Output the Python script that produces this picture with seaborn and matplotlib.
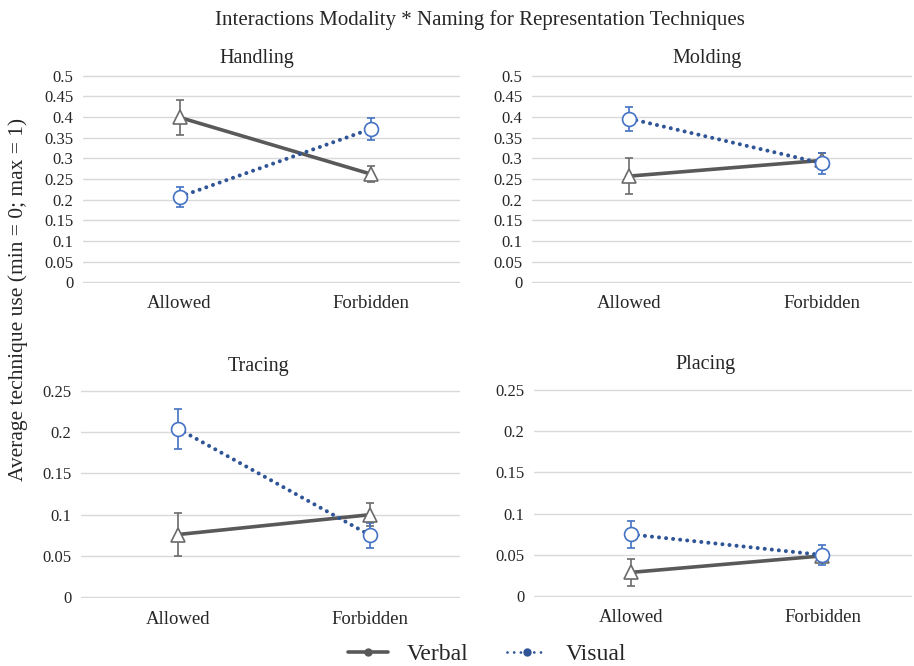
import numpy as np
import pandas as pd
import seaborn as sns
import matplotlib.pyplot as plt

CONDITIONS = ["Allowed", "Forbidden"]
SERIES = ["Verbal", "Visual"]
PANELS = ["Handling", "Molding", "Tracing", "Placing"]

# means per panel: [Allowed, Forbidden]
VERBAL_MEAN = {
    "Handling": [0.399, 0.262],
    "Molding": [0.257, 0.295],
    "Tracing": [0.076, 0.100],
    "Placing": [0.029, 0.049],
}
VISUAL_MEAN = {
    "Handling": [0.207, 0.371],
    "Molding": [0.396, 0.288],
    "Tracing": [0.204, 0.075],
    "Placing": [0.075, 0.050],
}
# half-width of error bars
VERBAL_ERR = {
    "Handling": [0.043, 0.019],
    "Molding": [0.043, 0.018],
    "Tracing": [0.026, 0.014],
    "Placing": [0.016, 0.007],
}
VISUAL_ERR = {
    "Handling": [0.024, 0.027],
    "Molding": [0.029, 0.026],
    "Tracing": [0.024, 0.015],
    "Placing": [0.016, 0.012],
}
Y_MAX = {"Handling": 0.5, "Molding": 0.5, "Tracing": 0.25, "Placing": 0.25}
Y_STEP = 0.05

rows = []
for p in PANELS:
    for i, c in enumerate(CONDITIONS):
        rows.append([p, "Verbal", c, i, VERBAL_MEAN[p][i], VERBAL_ERR[p][i]])
        rows.append([p, "Visual", c, i, VISUAL_MEAN[p][i], VISUAL_ERR[p][i]])
df = pd.DataFrame(rows, columns=["Panel", "Series", "Condition", "Pos", "Mean", "Err"])

sns.set_style("white")
plt.rcParams["font.family"] = ["Liberation Serif", "DejaVu Serif"]

DOTS = (0, (0.01, 1.75))
STYLE = {
    "Verbal": dict(line="#595959", ls="-", lw=2.6, mk="^", mkc="#6b6b6b", err="#6b6b6b"),
    "Visual": dict(line="#2F5597", ls=DOTS, lw=2.9, mk="o", mkc="#4472C4", err="#4472C4"),
}

fig = plt.figure(figsize=(9.14, 6.66), dpi=100)
W, H = 914, 666
# axes boxes in pixels: left, top, right, bottom
BOXES = {
    "Handling": (83, 75, 460, 283),
    "Molding": (532, 75, 912, 283),
    "Tracing": (81, 390, 460, 598),
    "Placing": (534, 389, 912, 597),
}
TITLES = {
    "Handling": (257, 59),
    "Molding": (707, 59),
    "Tracing": (258, 366),
    "Placing": (705, 364),
}

for p in PANELS:
    l, t, r, b = BOXES[p]
    ax = fig.add_axes([l / W, 1 - b / H, (r - l) / W, (b - t) / H])
    sub = df[df["Panel"] == p]
    for s in SERIES:
        st = STYLE[s]
        d = sub[sub["Series"] == s]
        sns.lineplot(data=d, x="Pos", y="Mean", ax=ax, color=st["line"], linewidth=st["lw"],
                     linestyle=st["ls"], dash_capstyle="round", zorder=2, legend=False)
        ax.errorbar(d["Pos"], d["Mean"], yerr=d["Err"], fmt="none", ecolor=st["err"],
                    elinewidth=1.2, capsize=3, capthick=1.2, zorder=3)
        ax.plot(d["Pos"], d["Mean"], linestyle="none", marker=st["mk"], markersize=10,
                markerfacecolor="white", markeredgecolor=st["mkc"], markeredgewidth=1.2, zorder=4)
    ymax = Y_MAX[p]
    ticks = np.arange(0, ymax + 1e-9, Y_STEP)
    ax.set_ylim(-0.003 * ymax, ymax * 1.003)
    ax.set_yticks(ticks)
    ax.set_yticklabels([f"{v:g}" for v in ticks], fontsize=12)
    ax.set_xlim(-0.505, 1.467)
    ax.set_xticks([0, 1])
    ax.set_xticklabels(CONDITIONS, fontsize=13.5)
    ax.grid(axis="y", color="#d9d9d9", linewidth=1)
    ax.set_axisbelow(True)
    ax.tick_params(axis="y", length=0, pad=7)
    ax.tick_params(axis="x", length=0, pad=9)
    ax.set_xlabel("")
    ax.set_ylabel("")
    for sp in ax.spines.values():
        sp.set_visible(False)
    tx, ty = TITLES[p]
    fig.text(tx / W, 1 - ty / H, p, ha="center", va="center", fontsize=14.5)

fig.text(480 / W, 1 - 20 / H, "Interactions Modality * Naming for Representation Techniques",
         ha="center", va="center", fontsize=15)
fig.text(18 / W, 1 - 299 / H, "Average technique use (min = 0; max = 1)",
         ha="center", va="center", rotation=90, fontsize=15.5)

handles = [
    plt.Line2D([], [], color=STYLE["Verbal"]["line"], lw=2.6, ls="-", marker="o", markersize=5),
    plt.Line2D([], [], color=STYLE["Visual"]["line"], lw=2.0, ls=(0, (0.01, 2.4)),
               dash_capstyle="round", marker="o", markersize=5),
]
fig.legend(handles, SERIES, loc="center", bbox_to_anchor=(487 / W, 1 - 654 / H), ncol=2,
           frameon=False, fontsize=17, handlelength=1.7, columnspacing=1.6, handletextpad=0.8)

fig.savefig("out.png", dpi=100)
